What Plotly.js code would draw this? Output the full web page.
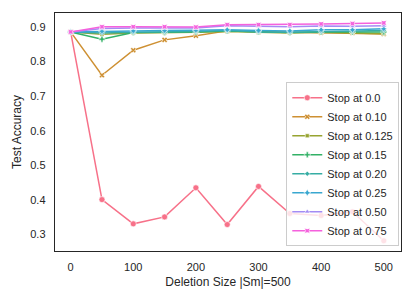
<!DOCTYPE html>
<html>
<head>
<meta charset="utf-8">
<script src="https://cdn.plot.ly/plotly-3.0.1.min.js"></script>
<style>html,body{margin:0;padding:0;background:#fff;}#chart{width:414px;height:301px;}</style>
</head>
<body>
<div id="chart"></div>
<script>
var deletionSizes = [0, 50, 100, 150, 200, 250, 300, 350, 400, 450, 500];
var seriesNames = ["Stop at 0.0", "Stop at 0.10", "Stop at 0.125", "Stop at 0.15", "Stop at 0.20", "Stop at 0.25", "Stop at 0.50", "Stop at 0.75"];
var stop000 = [0.885, 0.401, 0.331, 0.351, 0.435, 0.329, 0.439, 0.361, 0.355, 0.366, 0.282];
var stop010 = [0.885, 0.760, 0.832, 0.862, 0.874, 0.888, 0.886, 0.884, 0.883, 0.882, 0.879];
var stop0125 = [0.885, 0.878, 0.882, 0.882, 0.884, 0.886, 0.883, 0.882, 0.884, 0.883, 0.880];
var stop015 = [0.885, 0.864, 0.883, 0.883, 0.885, 0.888, 0.885, 0.883, 0.885, 0.885, 0.885];
var stop020 = [0.885, 0.882, 0.884, 0.884, 0.886, 0.889, 0.885, 0.884, 0.886, 0.887, 0.889];
var stop025 = [0.885, 0.887, 0.888, 0.889, 0.890, 0.891, 0.889, 0.888, 0.891, 0.891, 0.894];
var stop050 = [0.885, 0.895, 0.896, 0.896, 0.896, 0.903, 0.901, 0.900, 0.902, 0.901, 0.903];
var stop075 = [0.885, 0.900, 0.900, 0.900, 0.899, 0.906, 0.906, 0.906, 0.908, 0.909, 0.911];
var xTickVals = [0, 100, 200, 300, 400, 500];
var yTickVals = [0.3, 0.4, 0.5, 0.6, 0.7, 0.8, 0.9];

var allSeries = [stop000, stop010, stop0125, stop015, stop020, stop025, stop050, stop075];
var colors = ['#f77189', '#ce9032', '#97a431', '#32b166', '#36ada4', '#39a7d0', '#a48cf4', '#f561dd'];
var symbols = ['circle', 'x', 'square', 'cross', 'diamond', 'star-diamond', 'triangle-up', 'star-square'];
var sizes = [6, 5, 4, 5, 4, 5, 5, 5];

var traces = allSeries.map(function (ys, i) {
  return {
    type: 'scatter', mode: 'lines+markers',
    x: deletionSizes, y: ys, name: seriesNames[i],
    line: {color: colors[i], width: 1.5},
    marker: {symbol: symbols[i], size: sizes[i], color: colors[i], line: {color: 'white', width: 0.6}}
  };
});

var font = {family: 'Liberation Sans, Arial, sans-serif', color: '#262626'};
var layout = {
  width: 414, height: 301,
  margin: {l: 55, r: 13, t: 13, b: 50},
  paper_bgcolor: 'white', plot_bgcolor: 'white',
  font: {family: font.family, color: font.color, size: 11},
  showlegend: true,
  legend: {
    x: 0.995, y: 0.02, xanchor: 'right', yanchor: 'bottom',
    bgcolor: 'rgba(255,255,255,0.8)', bordercolor: '#cccccc', borderwidth: 1,
    font: {size: 11, color: '#262626'}, tracegroupgap: 0, itemwidth: 30
  },
  xaxis: {
    range: [-25, 527.5], tickvals: xTickVals, ticks: '', showgrid: false, zeroline: false,
    showline: true, mirror: true, linecolor: '#262626', linewidth: 1.25,
    tickfont: {size: 11}, ticklabelstandoff: 6,
    title: {text: 'Deletion Size |Sm|=500', font: {size: 12}, standoff: 5}
  },
  yaxis: {
    range: [0.2526, 0.9396], tickvals: yTickVals, ticktext: yTickVals.map(function (v) { return v.toFixed(1); }),
    ticks: '', showgrid: false, zeroline: false,
    showline: true, mirror: true, linecolor: '#262626', linewidth: 1.25,
    tickfont: {size: 11}, ticklabelstandoff: 6,
    title: {text: 'Test Accuracy', font: {size: 12}, standoff: 6}
  }
};
Plotly.newPlot('chart', traces, layout, {displayModeBar: false, staticPlot: true});
</script>
</body>
</html>
